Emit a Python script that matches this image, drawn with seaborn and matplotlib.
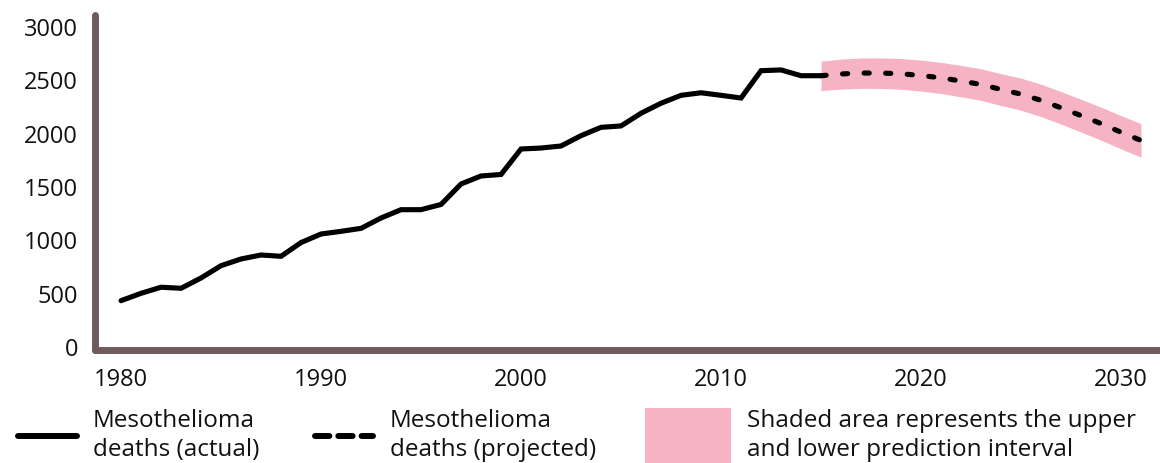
import numpy as np
import pandas as pd
import matplotlib.pyplot as plt
from matplotlib.lines import Line2D
from matplotlib.patches import Rectangle
import seaborn as sns

# >> Data
years_actual = list(range(1980, 2016))
deaths_actual = [425, 494, 551, 541, 638, 753, 816, 853, 841, 970,
                 1050, 1075, 1103, 1200, 1278, 1278, 1327, 1519, 1594, 1608,
                 1847, 1856, 1875, 1972, 2050, 2063, 2182, 2276, 2350, 2374,
                 2350, 2325, 2581, 2588, 2534, 2534]

years_proj = list(range(2015, 2032))
deaths_proj = [2534, 2550, 2559, 2559, 2552, 2536, 2514, 2484, 2452, 2405,
               2361, 2303, 2233, 2160, 2085, 2004, 1927]
upper_proj = [2670, 2690, 2700, 2701, 2695, 2680, 2659, 2630, 2599, 2553,
              2511, 2454, 2385, 2313, 2239, 2160, 2084]
lower_proj = [2395, 2408, 2416, 2415, 2407, 2390, 2367, 2336, 2303, 2255,
              2210, 2151, 2080, 2006, 1930, 1848, 1770]

x_ticks = [1980, 1990, 2000, 2010, 2020, 2030]
y_ticks = [0, 500, 1000, 1500, 2000, 2500, 3000]

legend_labels = ['Mesothelioma\ndeaths (actual)',
                 'Mesothelioma\ndeaths (projected)',
                 'Shaded area represents the upper\nand lower prediction interval']

spine_col = '#6f5b5b'
pink = '#f5b3c3'

actual_df = pd.DataFrame({'year': years_actual, 'deaths': deaths_actual})
proj_df = pd.DataFrame({'year': years_proj, 'deaths': deaths_proj,
                        'upper': upper_proj, 'lower': lower_proj})

sns.set_style('white')
plt.rcParams['font.family'] = ['Open Sans', 'DejaVu Sans']

fig = plt.figure(figsize=(11.6, 4.64), dpi=100)
ax = fig.add_axes([0.0823, 0.2425, 0.9177, 0.7230])

# Prediction interval band
ax.fill_between(proj_df['year'], proj_df['lower'], proj_df['upper'],
                color=pink, linewidth=0, zorder=1)

sns.lineplot(data=actual_df, x='year', y='deaths', ax=ax, color='black',
             linewidth=3.7, solid_capstyle='round', solid_joinstyle='miter', zorder=3)
sns.lineplot(data=proj_df, x='year', y='deaths', ax=ax, color='black',
             linewidth=3.7, linestyle=(0, (1.0, 3.2)), dash_capstyle='round', zorder=3)

ax.set_xlim(1978.72, 2031.95)
ax.set_ylim(-42, 3103)
ax.set_xticks(x_ticks)
ax.set_yticks(y_ticks)
ax.set_xlabel('')
ax.set_ylabel('')
ax.tick_params(axis='both', length=0, labelsize=17, labelcolor='#111111')
ax.tick_params(axis='y', pad=12.5)
ax.tick_params(axis='x', pad=12)

for side in ['top', 'right']:
    ax.spines[side].set_visible(False)
for side in ['left', 'bottom']:
    ax.spines[side].set_color(spine_col)
    ax.spines[side].set_linewidth(5)
    ax.spines[side].set_capstyle('round')


# >> Manual legend along the bottom
def fx(px):
    return px / 1160


def fy(py):
    return 1 - py / 464


fig.add_artist(Line2D([fx(18), fx(77)], [fy(437), fy(437)], color='black',
                      linewidth=4.3, solid_capstyle='round'))
fig.add_artist(Line2D([fx(315), fx(373)], [fy(437), fy(437)], color='black',
                      linewidth=4.3, linestyle=(0, (2.4, 1.5)), dash_capstyle='round'))
fig.add_artist(Rectangle((fx(645), fy(470)), fx(86), 61 / 464, color=pink,
                         linewidth=0))

for xpos, label in zip([93, 390, 747], legend_labels):
    fig.text(fx(xpos), fy(409), label, fontsize=17.5, va='top', ha='left',
             linespacing=1.3, color='#111111')

fig.savefig('out.png', dpi=100)
